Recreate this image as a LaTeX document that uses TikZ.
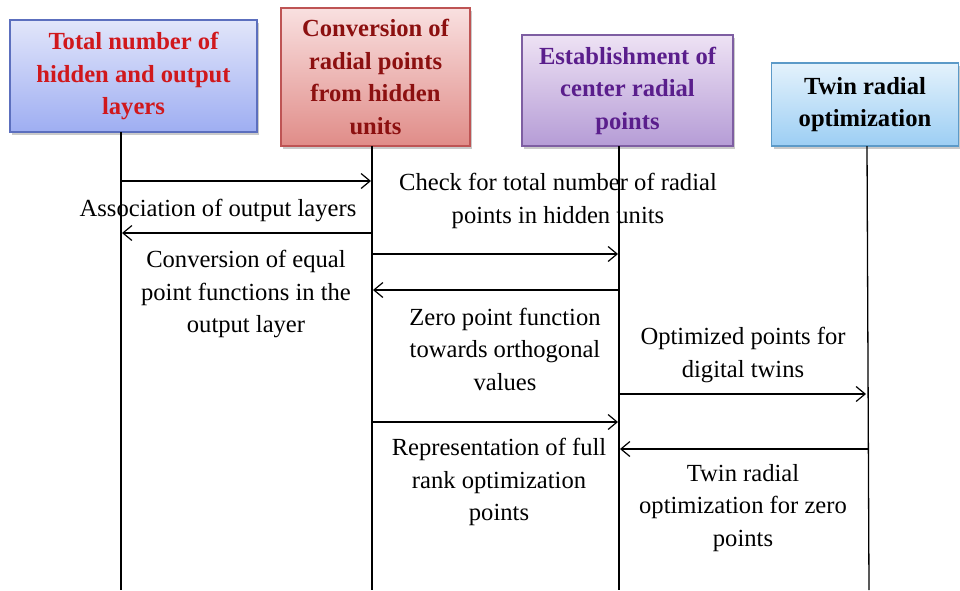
\documentclass[tikz,border=0pt]{standalone}
\usepackage{fontspec}
\setmainfont{Liberation Serif}
\usetikzlibrary{arrows.meta,shadows}
\definecolor{bAtop}{HTML}{E2E6FA}
\definecolor{bAbot}{HTML}{9EAEF2}
\definecolor{bAdraw}{HTML}{5C6FBE}
\definecolor{bAtext}{HTML}{D0181C}
\definecolor{bBtop}{HTML}{F9E0E0}
\definecolor{bBbot}{HTML}{E08C88}
\definecolor{bBdraw}{HTML}{BE5454}
\definecolor{bBtext}{HTML}{8C1010}
\definecolor{bCtop}{HTML}{EEE2F4}
\definecolor{bCbot}{HTML}{B59CD6}
\definecolor{bCdraw}{HTML}{7E5EA2}
\definecolor{bCtext}{HTML}{5A1E8C}
\definecolor{bDtop}{HTML}{E4F2FC}
\definecolor{bDbot}{HTML}{9CCEF4}
\definecolor{bDdraw}{HTML}{5C9AC8}
\tikzset{
  hdr/.style={draw, line width=1.2pt, align=center, inner sep=0pt,
    font=\fontsize{24.6}{32.5}\selectfont\bfseries,
    drop shadow={shadow xshift=2pt, shadow yshift=-3pt, fill=black!35, opacity=0.6}},
  life/.style={line width=1.3pt},
  msg/.style={line width=1.2pt, -{Straight Barb[length=9pt,width=15pt,line width=1.2pt]}},
  lbl/.style={align=center, inner sep=0pt, font=\fontsize{24.6}{32.5}\selectfont}
}
\begin{document}
\begin{tikzpicture}[x=1pt,y=-1pt]
\useasboundingbox (0,0) rectangle (960,590);
% header boxes
\node[hdr, draw=bAdraw, top color=bAtop, bottom color=bAbot, text=bAtext,
  minimum width=247pt, minimum height=112pt] (A) at (133.5,76)
  {Total number of\\hidden and output\\layers};
\node[hdr, draw=bBdraw, top color=bBtop, bottom color=bBbot, text=bBtext,
  minimum width=189pt, minimum height=138pt] (B) at (375.5,77)
  {Conversion of\\radial points\\from hidden\\units};
\node[hdr, draw=bCdraw, top color=bCtop, bottom color=bCbot, text=bCtext,
  minimum width=211pt, minimum height=111pt] (C) at (627.5,90.5)
  {Establishment of\\center radial\\points};
\node[hdr, draw=bDdraw, top color=bDtop, bottom color=bDbot, text=black,
  minimum width=187pt, minimum height=83pt] (D) at (865,104.5)
  {Twin radial\\optimization};
% lifelines
\coordinate (A1) at (121,132);  \coordinate (A2) at (121,590);
\coordinate (B1) at (372,146);  \coordinate (B2) at (372,590);
\coordinate (C1) at (619,146);  \coordinate (C2) at (619,590);
\coordinate (D1) at (867,146);  \coordinate (D2) at (869,590);
\draw[life] (A1) -- (A2);
\draw[life] (B1) -- (B2);
\draw[life] (C1) -- (C2);
\draw[life] (D1) -- (D2);
% message end points
\coordinate (m1a) at (121,181); \coordinate (m1b) at (371,181);
\coordinate (m2a) at (372,233); \coordinate (m2b) at (122,233);
\coordinate (m3a) at (372,254); \coordinate (m3b) at (618,254);
\coordinate (m4a) at (619,290); \coordinate (m4b) at (373,290);
\coordinate (m5a) at (619,394); \coordinate (m5b) at (866,394);
\coordinate (m6a) at (372,422); \coordinate (m6b) at (618,422);
\coordinate (m7a) at (868,449); \coordinate (m7b) at (620,449);
\draw[msg] (m1a) -- (m1b);
\draw[msg] (m2a) -- (m2b);
\draw[msg] (m3a) -- (m3b);
\draw[msg] (m4a) -- (m4b);
\draw[msg] (m5a) -- (m5b);
\draw[msg] (m6a) -- (m6b);
\draw[msg] (m7a) -- (m7b);
% labels
\node[lbl] (t2) at (218,210) {Association of output layers};
\node[lbl] (t3) at (558,201) {Check for total number of radial\\points in hidden units};
\node[lbl] (t4) at (246,294) {Conversion of equal\\point functions in the\\output layer};
\node[lbl] (t5) at (505,349) {Zero point function\\towards orthogonal\\values};
\node[lbl] (t6) at (743,355) {Optimized points for\\digital twins};
\node[lbl] (t7) at (499,482) {Representation of full\\rank optimization\\points};
\node[lbl] (t8) at (743,508) {Twin radial\\optimization for zero\\points};
\end{tikzpicture}
\end{document}
